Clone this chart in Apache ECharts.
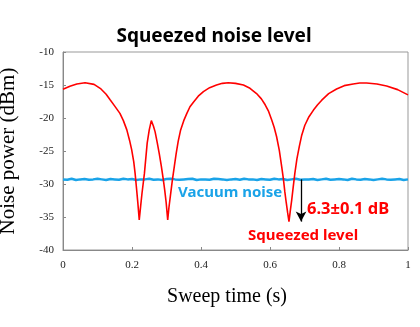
<!DOCTYPE html>
<html><head><meta charset="utf-8">
<script src="https://cdn.jsdelivr.net/npm/echarts@6/dist/echarts.min.js"></script>
<style>html,body{margin:0;padding:0;background:#fff}#c{width:420px;height:327px}</style>
</head><body><div id="c"></div>
<script>
const titleText = 'Squeezed noise level';
const xName = 'Sweep time (s)';
const yName = 'Noise power (dBm)';
const xTicks = [0, 0.2, 0.4, 0.6, 0.8, 1];
const yTicks = [-40, -35, -30, -25, -20, -15, -10];

const squeezedT = [0,0.02,0.04,0.064,0.09,0.11,0.125,0.136,0.150,0.165,0.175,0.185,0.193,0.199,0.205,0.209,0.213,0.217,0.221,0.225,0.229,0.236,0.244,0.250,0.256,0.262,0.267,0.273,0.279,0.285,0.291,0.295,0.299,0.3035,0.307,0.311,0.317,0.323,0.328,0.334,0.341,0.350,0.359,0.368,0.378,0.392,0.407,0.425,0.445,0.462,0.479,0.50,0.523,0.542,0.561,0.575,0.586,0.596,0.605,0.612,0.619,0.627,0.634,0.639,0.643,0.647,0.651,0.655,0.659,0.663,0.667,0.672,0.678,0.685,0.692,0.701,0.713,0.726,0.738,0.750,0.770,0.793,0.815,0.841,0.860,0.880,0.91,0.938,0.97,1.0];
const squeezedV = [-15.65,-15.2,-14.85,-14.65,-14.9,-15.6,-16.4,-17.2,-18.2,-19.3,-20.4,-21.8,-23.4,-24.8,-26.6,-28.4,-30.6,-32.9,-35.45,-33.4,-31.4,-28.4,-23.8,-21.8,-20.4,-21.2,-22.1,-23.7,-25.4,-27.3,-29.4,-31.0,-32.8,-35.45,-33.6,-31.9,-29.4,-27.2,-25.4,-23.5,-21.8,-20.4,-19.3,-18.3,-17.6,-16.7,-16.0,-15.4,-15.0,-14.75,-14.65,-14.75,-15.0,-15.5,-16.3,-17.1,-18.0,-19.0,-20.3,-21.4,-22.8,-24.9,-27.4,-29.3,-31.2,-32.8,-34.3,-35.7,-34.0,-32.4,-30.6,-28.4,-26.2,-24.3,-22.6,-21.1,-19.8,-18.8,-18.0,-17.3,-16.3,-15.6,-15.1,-14.85,-14.7,-14.7,-14.85,-15.15,-15.7,-16.5];

const vacuumT = [0,0.0125,0.025,0.0375,0.05,0.0625,0.075,0.0875,0.1,0.1125,0.125,0.1375,0.15,0.1625,0.175,0.1875,0.2,0.2125,0.225,0.2375,0.25,0.2625,0.275,0.2875,0.3,0.3125,0.325,0.3375,0.35,0.3625,0.375,0.3875,0.4,0.4125,0.425,0.4375,0.45,0.4625,0.475,0.4875,0.5,0.5125,0.525,0.5375,0.55,0.5625,0.575,0.5875,0.6,0.6125,0.625,0.6375,0.65,0.6625,0.675,0.6875,0.7,0.7125,0.725,0.7375,0.75,0.7625,0.775,0.7875,0.8,0.8125,0.825,0.8375,0.85,0.8625,0.875,0.8875,0.9,0.9125,0.925,0.9375,0.95,0.9625,0.975,0.9875,1];
const vacuumV = [-29.3,-29.35,-29.2,-29.4,-29.3,-29.25,-29.35,-29.3,-29.2,-29.3,-29.4,-29.25,-29.3,-29.35,-29.2,-29.3,-29.25,-29.4,-29.3,-29.3,-29.2,-29.35,-29.3,-29.4,-29.25,-29.2,-29.3,-29.35,-29.3,-29.25,-29.2,-29.4,-29.3,-29.3,-29.35,-29.2,-29.25,-29.3,-29.4,-29.3,-29.25,-29.35,-29.2,-29.3,-29.3,-29.4,-29.25,-29.3,-29.35,-29.2,-29.3,-29.25,-29.4,-29.3,-29.2,-29.35,-29.3,-29.3,-29.25,-29.4,-29.3,-29.2,-29.35,-29.3,-29.25,-29.3,-29.4,-29.2,-29.3,-29.35,-29.25,-29.3,-29.4,-29.3,-29.2,-29.3,-29.35,-29.3,-29.25,-29.4,-29.3];

const arrowX = 0.69, arrowFrom = -29.3, arrowTo = -35.7;
const labelVacuum = 'Vacuum noise';
const labelDb = '6.3±0.1 dB';
const labelSq = 'Squeezed level';

const RED = '#ff0000', BLUE = '#1aa3e8';
const chart = echarts.init(document.getElementById('c'), null, {renderer: 'canvas'});
const serif = '"Liberation Serif", "Times New Roman", serif';
const sans = '"Noto Sans", "Open Sans", sans-serif';

chart.setOption({
  animation: false,
  title: {text: titleText, left: 209, top: 22, textAlign: 'center',
    textStyle: {fontFamily: sans, fontWeight: 'bold', fontSize: 19, color: '#000'}},
  grid: {left: 63, right: 12, top: 52, bottom: 77, show: true, borderColor: '#999', borderWidth: 1,
    containLabel: false, outerBoundsMode: 'none'},
  xAxis: {type: 'value', min: xTicks[0], max: xTicks[xTicks.length-1], interval: 0.2,
    name: xName, nameLocation: 'middle', nameGap: 37,
    nameTextStyle: {fontFamily: serif, fontSize: 20, color: '#000', padding: [0, 17, 0, 0]},
    axisLine: {show: true, lineStyle: {color: '#888'}},
    axisTick: {show: true, inside: true, length: 3, lineStyle: {color: '#888'}},
    splitLine: {show: false},
    axisLabel: {fontFamily: serif, fontSize: 11, color: '#222', margin: 10,
      formatter: v => String(Math.round(v * 10) / 10)}},
  yAxis: {type: 'value', min: yTicks[0], max: yTicks[yTicks.length-1], interval: 5,
    name: yName, nameLocation: 'middle', nameGap: 44, nameRotate: 90,
    nameTextStyle: {fontFamily: serif, fontSize: 21, color: '#000'},
    axisLine: {show: true, lineStyle: {color: '#888'}},
    axisTick: {show: true, inside: true, length: 3, lineStyle: {color: '#888'}},
    splitLine: {show: false},
    axisLabel: {fontFamily: serif, fontSize: 11, color: '#222', margin: 9}},
  series: [
    {type: 'line', name: 'vacuum', data: vacuumT.map((t, i) => [t, vacuumV[i]]),
      showSymbol: false, lineStyle: {color: BLUE, width: 2.5}, z: 2,
      markLine: {silent: true, symbol: ['none', 'arrow'], symbolSize: [8, 10],
        label: {show: false},
        lineStyle: {color: '#000', width: 1.3, type: 'solid'},
        data: [[{coord: [arrowX, arrowFrom]}, {coord: [arrowX, arrowTo]}]]}},
    {type: 'line', name: 'squeezed', data: squeezedT.map((t, i) => [t, squeezedV[i]]),
      showSymbol: false, lineStyle: {color: RED, width: 1.6}, z: 3}
  ],
  graphic: [
    {type: 'text', left: 178, top: 185, style: {text: labelVacuum, fill: BLUE,
      font: 'bold 15px ' + sans}},
    {type: 'text', left: 307, top: 201, style: {text: labelDb, fill: RED,
      font: 'bold 16.5px ' + sans}},
    {type: 'text', left: 248, top: 228, style: {text: labelSq, fill: RED,
      font: 'bold 15px ' + sans}}
  ]
});
</script></body></html>
